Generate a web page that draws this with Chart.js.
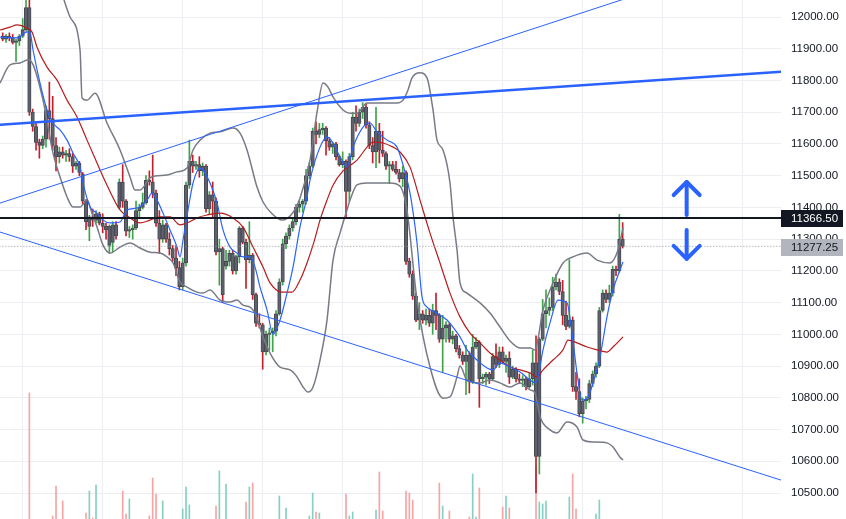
<!DOCTYPE html>
<html lang="en">
<head>
  <meta charset="UTF-8" />
  <title>Futures 15m</title>
  <script src="https://cdn.jsdelivr.net/npm/chart.js"></script>
  <style>
    html, body { margin: 0; padding: 0; background: #fff; }
    #wrap { width: 846px; height: 519px; }
  </style>
</head>
<body>
  <div id="wrap"><canvas id="chart" width="846" height="519"></canvas></div>

  <script>
    // candles, one per bar (index = bar number)
    const opens = [
      11940, 11930, 11940, 11935, 11920, 11925, 11940, 11960, 12030, 11700,
      11655, 11605, 11595, 11615, 11705, 11680, 11595, 11560, 11575, 11565,
      11570, 11560, 11530, 11540, 11505, 11420, 11340, 11370, 11360, 11380,
      11350, 11340, 11280, 11290, 11345, 11400, 11480, 11420, 11325, 11330,
      11335, 11390, 11400, 11415, 11485, 11480, 11445, 11350, 11300, 11345,
      11300, 11270, 11240, 11210, 11150, 11225, 11470, 11545, 11530, 11535,
      11515, 11530, 11395, 11440, 11420, 11260, 11270, 11215, 11230, 11255,
      11200, 11245, 11335, 11290, 11235, 11250, 11125, 11035, 11030, 10945,
      11000, 11005, 11010, 11065, 11165, 11285, 11310, 11335, 11355, 11400,
      11410, 11420, 11500, 11530, 11640, 11630, 11645, 11650, 11610, 11590,
      11600, 11560, 11535, 11545, 11450, 11560, 11685, 11665, 11700, 11715,
      11660, 11595, 11575, 11640, 11580, 11570, 11530, 11535, 11520, 11510,
      11490, 11510, 11230, 11190, 11120, 11045, 11065, 11045, 11060, 11035,
      11075, 11060, 10985, 11020, 11030, 10985, 10995, 10955, 10935, 10915,
      10935, 10850, 10960, 10975, 10860, 10865, 10875, 10860, 10930, 10905,
      10945, 10915, 10925, 10865, 10890, 10860, 10855, 10860, 10835, 10860,
      10910, 10615, 10985, 11065, 11075, 11085, 11150, 11165, 11135, 11060,
      11025, 11045, 10835, 10820, 10750, 10790, 10795, 10845, 10875, 10900,
      11075, 11130, 11110, 11130, 11205, 11200, 11300
    ];
    const highs = [
      11950, 11945, 11950, 11945, 11930, 11945, 11995, 12060, 12060, 11710,
      11670, 11615, 11625, 11720, 11795, 11750, 11620, 11590, 11590, 11580,
      11585, 11570, 11545, 11545, 11510, 11425, 11375, 11395, 11390, 11385,
      11380, 11350, 11345, 11355, 11355, 11490, 11535, 11425, 11340, 11345,
      11420, 11410, 11445, 11500, 11515, 11565, 11455, 11390, 11360, 11350,
      11320, 11280, 11280, 11230, 11240, 11480, 11612, 11565, 11545, 11560,
      11540, 11535, 11450, 11480, 11430, 11300, 11275, 11265, 11265, 11265,
      11250, 11340, 11340, 11300, 11355, 11255, 11130, 11065, 11035, 11010,
      11020, 11020, 11075, 11175, 11300, 11320, 11345, 11365, 11410, 11420,
      11425, 11520, 11540, 11650, 11670, 11665, 11665, 11655, 11620, 11605,
      11605, 11565, 11575, 11550, 11570, 11700, 11720, 11710, 11730, 11725,
      11670, 11620, 11715, 11665, 11640, 11575, 11545, 11545, 11545, 11520,
      11530, 11515, 11240, 11200, 11130, 11100, 11075, 11080, 11080, 11095,
      11130, 11065, 11060, 11040, 11035, 11010, 11000, 10965, 10945, 10965,
      10945, 11000, 10990, 10980, 10875, 10880, 10880, 10940, 10970, 10960,
      10960, 10935, 10945, 10900, 10895, 10875, 10870, 10865, 10880, 10950,
      10995, 10990, 11110, 11140, 11115, 11180, 11190, 11175, 11170, 11105,
      11235, 11055, 10880, 10860, 10800, 10805, 10855, 10885, 10910, 11085,
      11140, 11140, 11155, 11215, 11215, 11378, 11352
    ];
    const lows = [
      11925, 11920, 11925, 11915, 11860, 11910, 11935, 11955, 11690, 11640,
      11580, 11555, 11585, 11590, 11615, 11580, 11515, 11540, 11555, 11545,
      11545, 11510, 11520, 11500, 11410, 11330, 11295, 11340, 11350, 11345,
      11320, 11300, 11255, 11260, 11300, 11395, 11400, 11310, 11305, 11300,
      11330, 11370, 11395, 11410, 11470, 11430, 11340, 11255, 11290, 11290,
      11250, 11230, 11185, 11140, 11140, 11215, 11460, 11510, 11520, 11495,
      11500, 11385, 11380, 11370, 11250, 11155, 11100, 11205, 11215, 11190,
      11190, 11225, 11285, 11145, 11225, 11110, 11025, 11020, 10890, 10935,
      10950, 10945, 10995, 11060, 11155, 11270, 11300, 11325, 11345, 11385,
      11385, 11410, 11490, 11525, 11600, 11620, 11630, 11565, 11580, 11570,
      11550, 11530, 11525, 11365, 11420, 11550, 11640, 11655, 11680, 11650,
      11585, 11540, 11525, 11540, 11560, 11520, 11475, 11515, 11505, 11480,
      11465, 11220, 11180, 11110, 11040, 11015, 11035, 11030, 11025, 11000,
      11015, 10975, 10880, 10975, 10975, 10970, 10945, 10925, 10905, 10810,
      10815, 10845, 10955, 10770, 10845, 10840, 10845, 10855, 10895, 10895,
      10910, 10880, 10845, 10860, 10850, 10845, 10835, 10825, 10830, 10840,
      10500, 10560, 10980, 11020, 11060, 11075, 11140, 11125, 11030, 11015,
      11020, 10820, 10795, 10740, 10720, 10765, 10785, 10835, 10865, 10895,
      11070, 11100, 11100, 11120, 11185, 11195, 11272
    ];
    const closes = [
      11930, 11940, 11935, 11920, 11925, 11940, 11960, 12030, 11700, 11655,
      11605, 11595, 11615, 11705, 11680, 11595, 11560, 11575, 11565, 11570,
      11560, 11530, 11540, 11510, 11420, 11355, 11370, 11360, 11380, 11350,
      11340, 11330, 11340, 11345, 11310, 11480, 11420, 11325, 11330, 11335,
      11390, 11400, 11415, 11485, 11480, 11445, 11350, 11300, 11345, 11300,
      11270, 11240, 11210, 11150, 11225, 11470, 11545, 11530, 11535, 11515,
      11530, 11395, 11440, 11420, 11260, 11270, 11125, 11230, 11255, 11200,
      11245, 11335, 11290, 11235, 11250, 11125, 11035, 11030, 10945, 11000,
      11005, 11010, 11065, 11165, 11285, 11310, 11335, 11355, 11400, 11410,
      11420, 11500, 11530, 11640, 11630, 11645, 11650, 11610, 11590, 11600,
      11560, 11535, 11545, 11450, 11560, 11685, 11665, 11700, 11715, 11660,
      11595, 11575, 11640, 11580, 11570, 11530, 11535, 11520, 11510, 11490,
      11510, 11230, 11190, 11120, 11045, 11065, 11045, 11060, 11035, 11075,
      11060, 10985, 11020, 11030, 10985, 10995, 10955, 10935, 10915, 10935,
      10850, 10960, 10975, 10860, 10865, 10875, 10860, 10930, 10905, 10945,
      10915, 10925, 10865, 10890, 10860, 10855, 10860, 10835, 10860, 10910,
      10615, 10985, 11065, 11075, 11085, 11150, 11165, 11135, 11060, 11025,
      11045, 10835, 10820, 10750, 10790, 10795, 10845, 10875, 10900, 11075,
      11130, 11110, 11130, 11205, 11200, 11300, 11277.25
    ];

    // volume (only the bars tall enough to show above the bottom edge)
    const volIdx = [8, 15, 16, 18, 25, 26, 27, 28, 36, 37, 38, 44, 45, 46, 48, 54, 55, 56, 64, 65, 67,
      73, 74, 75, 83, 85, 92, 93, 94, 95, 103, 104, 105, 112, 113, 114, 121, 122, 123, 131, 132, 134,
      140, 141, 142, 143, 150, 151, 152, 160, 161, 162, 163, 170, 171, 172, 178, 179];
    const volVal = [12600, 300, 3300, 1800, 600, 2800, 100, 3400, 2800, 500, 2000, 300, 4100, 2500, 1800, 1000, 3200, 1400, 1300, 4800, 3500,
      1700, 3200, 3600, 2300, 1100, 300, 2600, 700, 600, 2500, 300, 700, 900, 4700, 800, 2800, 2600, 1900, 3600, 1300, 800,
      200, 4500, 200, 3100, 1200, 2300, 1100, 5300, 1700, 1500, 1800, 2200, 4500, 1000, 500, 1900];

    // indicator lines: [bar, price]
    const upperBand = [[15.7, 12148], [20.2, 12000], [23.2, 11896], [23.8, 11745], [25.3, 11738], [27.7, 11760], [31.3, 11666],
      [35.2, 11581], [38.2, 11496], [39.7, 11455], [41.2, 11455], [44.2, 11493], [45.7, 11499], [49.3, 11502], [52.3, 11512],
      [55.3, 11524], [57.1, 11581], [59.2, 11612], [62.2, 11634], [65.2, 11638], [69.1, 11650], [71.2, 11634], [73.3, 11581],
      [76.3, 11464], [78.1, 11417], [80.8, 11380], [83.8, 11360], [86.8, 11380], [89.2, 11430], [92.2, 11549], [94.3, 11700],
      [96.1, 11792], [97.6, 11779], [99.1, 11748], [102.1, 11707], [104.2, 11697], [106.3, 11697], [109.3, 11729], [114.1, 11729],
      [118.3, 11729], [120.1, 11738], [121.6, 11770], [122.8, 11808], [125.2, 11824], [127.3, 11808], [129.1, 11707], [130.3, 11612],
      [132.1, 11581], [134.2, 11477], [135.1, 11370], [136.3, 11266], [137.2, 11162], [139.3, 11130], [143.2, 11099], [146.2, 11067],
      [149.2, 11023], [152.2, 10979], [155.2, 10957], [158.2, 10957], [159.7, 10951], [162.1, 11077], [165.1, 11162], [168.1, 11225],
      [171.1, 11244], [175.3, 11256], [178.3, 11234], [182.2, 11225], [184.6, 11266], [186.1, 11335]];
    const lowerBand = [[-0.8, 11792], [2.2, 11849], [5.2, 11855], [7.6, 11865], [9.1, 11850], [12.1, 11738], [15.1, 11571],
      [17.2, 11496], [19.3, 11433], [21.1, 11401], [23.2, 11401], [25.3, 11423], [26.8, 11382], [28.3, 11338], [30.1, 11281],
      [32.2, 11256], [35.2, 11275], [38.2, 11288], [41.2, 11272], [44.2, 11259], [47.2, 11256], [49.3, 11244], [51.1, 11225],
      [53.2, 11165], [55.3, 11149], [58.3, 11133], [60.1, 11130], [62.2, 11140], [65.2, 11108], [68.2, 11102], [70.3, 11108],
      [72.1, 11092], [74.2, 11086], [75.7, 11067], [78.1, 10992], [80.2, 10941], [83.2, 10897], [86.2, 10888], [88.3, 10866],
      [90.1, 10834], [91.6, 10818], [93.1, 10834], [95.2, 10919], [97.3, 11045], [99.1, 11234], [101.2, 11319], [103.3, 11392],
      [104.2, 11423], [106.3, 11471], [109.3, 11477], [113.2, 11477], [116.2, 11477], [119.2, 11467], [121.3, 11390], [124.3, 11108],
      [128.2, 10897], [132.1, 10799], [134.2, 10803], [136.3, 10866], [137.2, 10900], [139.3, 10856], [143.2, 10847], [146.2, 10856],
      [149.2, 10847], [152.2, 10834], [155.2, 10847], [158.2, 10825], [159.7, 10815], [161.2, 10740], [164.2, 10699], [166.3, 10689],
      [169.3, 10724], [172.3, 10708], [174.1, 10667], [177.1, 10661], [181.3, 10658], [183.1, 10645], [185.2, 10613], [186.1, 10604]];
    const slowMA = [[-0.8, 11959], [2.2, 11968], [4.3, 11975], [7.3, 11965], [8.8, 11953], [10.3, 11905], [13.3, 11842],
      [16.3, 11801], [19.3, 11738], [22.3, 11685], [25.3, 11612], [28.3, 11540], [31.3, 11470], [35.2, 11392], [38.2, 11367],
      [41.2, 11351], [44.2, 11360], [47.2, 11370], [50.2, 11370], [53.2, 11345], [55.3, 11351], [58.3, 11367], [61.3, 11376],
      [65.2, 11382], [69.1, 11367], [72.1, 11338], [75.1, 11275], [78.1, 11212], [80.2, 11162], [83.8, 11133], [86.8, 11133],
      [89.2, 11171], [91.3, 11225], [93.3, 11288], [95.2, 11360], [97.3, 11423], [99.1, 11470], [102.1, 11515], [106.3, 11549],
      [109.3, 11590], [111.1, 11606], [114.1, 11603], [117.1, 11590], [119.2, 11575], [122.2, 11527], [125.2, 11423], [128.2, 11319],
      [131.2, 11225], [134.2, 11130], [137.2, 11055], [140.2, 11004], [143.2, 10973], [146.2, 10941], [149.2, 10919], [152.2, 10897],
      [155.2, 10888], [158.2, 10878], [160.3, 10866], [162.1, 10888], [165.1, 10919], [168.1, 10951], [169.6, 10982], [172.3, 10973],
      [175.3, 10960], [178.3, 10951], [181.3, 10944], [183.1, 10960], [186.1, 10992]];
    const fastMA = [[-0.8, 11937], [4.3, 11934], [7.3, 11953], [8.2, 11950], [9.1, 11896], [11.2, 11792], [13.3, 11707],
      [15.1, 11666], [17.2, 11644], [19.3, 11612], [21.1, 11571], [23.2, 11527], [24.1, 11477], [26.2, 11401], [28.3, 11382],
      [30.1, 11360], [32.2, 11351], [35.2, 11354], [37.3, 11392], [40.3, 11398], [43.3, 11423], [44.8, 11445], [46.3, 11423],
      [48.1, 11382], [50.2, 11329], [52.3, 11275], [53.2, 11244], [54.1, 11297], [55.6, 11392], [57.1, 11477], [59.2, 11524],
      [62.2, 11477], [64.3, 11414], [66.1, 11329], [68.2, 11275], [70.3, 11256], [72.1, 11244], [74.2, 11244], [75.7, 11212],
      [77.2, 11149], [79.3, 11077], [81.1, 11000], [83.2, 11045], [85.3, 11130], [87.1, 11212], [89.2, 11339], [91.3, 11433],
      [92.2, 11486], [95.2, 11590], [97.3, 11622], [99.1, 11603], [101.2, 11559], [103.3, 11527], [105.1, 11590], [108.1, 11653],
      [110.2, 11666], [112.3, 11638], [115.3, 11612], [118.3, 11590], [120.1, 11534], [122.2, 11445], [124.3, 11288], [125.8, 11118],
      [127.3, 11086], [130.3, 11067], [133.3, 11045], [135.1, 11023], [137.2, 10992], [139.3, 10951], [142.3, 10919], [145.3, 10894],
      [147.1, 10888], [149.2, 10910], [152.2, 10897], [155.2, 10881], [158.2, 10856], [159.7, 10847], [160.6, 10866], [162.1, 10951],
      [164.2, 11036], [166.6, 11108], [169.3, 11099], [170.8, 11004], [172.3, 10878], [173.8, 10793], [175.6, 10803], [177.1, 10847],
      [179.2, 10929], [181.3, 11055], [183.1, 11140], [185.2, 11203], [186.1, 11228]];

    // drawn trend lines: [bar, price] end points
    const trendTop = [[-1, 11660], [234, 11828]];
    const trendUp = [[-1, 11413], [234, 12220]];
    const trendDown = [[-1, 11323], [234, 10539]];

    const levelLine = 11366.5;
    const lastPrice = 11277.25;
    const arrowX = 205.2;
    const arrowUp = [11376, 11480];
    const arrowDown = [11329, 11238];

    const priceTicks = [10500, 10600, 10700, 10800, 10900, 11000, 11100, 11200, 11300, 11400, 11500, 11600, 11700, 11800, 11900, 12000];
    const timeGrid = [6, 30, 54, 78, 102, 126, 150, 174, 198, 222];

    const GREEN = '#3fa34d';
    const RED = '#c0202e';
    const FONT = '"Liberation Sans", Arial, sans-serif';

    const bars = opens.map((_, i) => i);
    const isUp = bars.map(i => closes[i] >= opens[i]);
    const pts = arr => arr.map(([x, y]) => ({ x, y }));

    function curve(data, color, width, order) {
      return {
        type: 'line', data: pts(data), borderColor: color, borderWidth: width,
        pointRadius: 0, fill: false, cubicInterpolationMode: 'monotone', order
      };
    }
    function straight(data, color, width, order, dash) {
      return {
        type: 'line', data: pts(data), borderColor: color, borderWidth: width,
        pointRadius: 0, fill: false, tension: 0, borderDash: dash || [], order
      };
    }

    // arrows + price tags on the axis
    const overlay = {
      id: 'overlay',
      afterDatasetsDraw(chart) {
        const { ctx, scales: { x, y } } = chart;
        ctx.save();
        ctx.strokeStyle = '#2962ff';
        ctx.lineWidth = 4;
        ctx.lineCap = 'round';
        ctx.lineJoin = 'round';
        [arrowUp, arrowDown].forEach(([from, to]) => {
          const px = x.getPixelForValue(arrowX);
          const y0 = y.getPixelForValue(from);
          const y1 = y.getPixelForValue(to);
          const d = y1 < y0 ? 1 : -1;
          ctx.beginPath();
          ctx.moveTo(px, y0);
          ctx.lineTo(px, y1);
          ctx.stroke();
          ctx.beginPath();
          ctx.moveTo(px - 13, y1 + d * 13);
          ctx.lineTo(px, y1);
          ctx.lineTo(px + 13, y1 + d * 13);
          ctx.stroke();
        });
        ctx.restore();
      },
      afterDraw(chart) {
        const { ctx, chartArea, scales: { y } } = chart;
        ctx.save();
        [[levelLine, '#131722', '#ffffff', 0], [lastPrice, '#b2b5be', '#131722', 1]].forEach(([v, bg, fg, dy]) => {
          const py = Math.round(y.getPixelForValue(v)) + dy;
          ctx.fillStyle = bg;
          ctx.fillRect(chartArea.right, py - 8, chart.width - chartArea.right - 3, 17);
          ctx.fillStyle = fg;
          ctx.font = '11.5px ' + FONT;
          ctx.textAlign = 'left';
          ctx.textBaseline = 'middle';
          ctx.fillText(v.toFixed(2), chartArea.right + 10, py + 0.5);
        });
        ctx.restore();
      }
    };

    new Chart(document.getElementById('chart'), {
      type: 'bar',
      data: {
        datasets: [
          straight(trendTop, '#2962ff', 2.5, 2),
          straight(trendUp, '#2962ff', 1, 2),
          straight(trendDown, '#2962ff', 1, 2),
          straight([[-1, levelLine], [234, levelLine]], '#131722', 2, 1),
          straight([[-1, lastPrice], [234, lastPrice]], '#9598a1', 1, 3, [1, 2]),
          curve(fastMA, '#2962ff', 1.2, 4),
          curve(slowMA, '#b71c1c', 1.2, 4),
          curve(upperBand, '#787b86', 1.5, 5),
          curve(lowerBand, '#787b86', 1.5, 5),
          {
            type: 'bar', data: bars.map(i => ({ x: i, y: [opens[i], closes[i]] })),
            backgroundColor: '#5f626d', borderColor: '#474a53', borderWidth: 1, borderSkipped: false,
            barThickness: 3.4, minBarLength: 1, grouped: false, order: 8
          },
          {
            type: 'bar', data: bars.map(i => ({ x: i, y: [lows[i], highs[i]] })),
            backgroundColor: bars.map(i => isUp[i] ? GREEN : RED),
            barThickness: 1, grouped: false, order: 9
          },
          {
            type: 'bar', yAxisID: 'yv', data: volIdx.map((k, j) => ({ x: k, y: volVal[j] })),
            backgroundColor: volIdx.map(k => isUp[k] ? '#85cfc4' : '#f6a4a4'),
            barThickness: 1, grouped: false, order: 10
          }
        ]
      },
      options: {
        responsive: false,
        animation: false,
        devicePixelRatio: 1,
        layout: { padding: 0 },
        plugins: { legend: { display: false }, tooltip: { enabled: false } },
        scales: {
          x: {
            type: 'linear', min: -0.81, max: 233.5, offset: false,
            grid: { color: '#eceef2', drawTicks: false, offset: false },
            border: { display: false },
            ticks: { display: false },
            afterBuildTicks: s => { s.ticks = timeGrid.map(v => ({ value: v })); }
          },
          y: {
            type: 'linear', position: 'right', min: 10418.1, max: 12053.6,
            grid: { color: '#eceef2', drawTicks: false },
            border: { display: false },
            ticks: {
              padding: 10, color: '#131722', font: { family: FONT, size: 11.5 },
              callback: v => Number(v).toFixed(2)
            },
            afterBuildTicks: s => { s.ticks = priceTicks.map(v => ({ value: v })); },
            afterFit: s => { s.width = 65; s.paddingTop = 0; s.paddingBottom = 0; }
          },
          yv: { type: 'linear', display: false, min: 0, max: 51900 }
        }
      },
      plugins: [overlay]
    });
  </script>
</body>
</html>
